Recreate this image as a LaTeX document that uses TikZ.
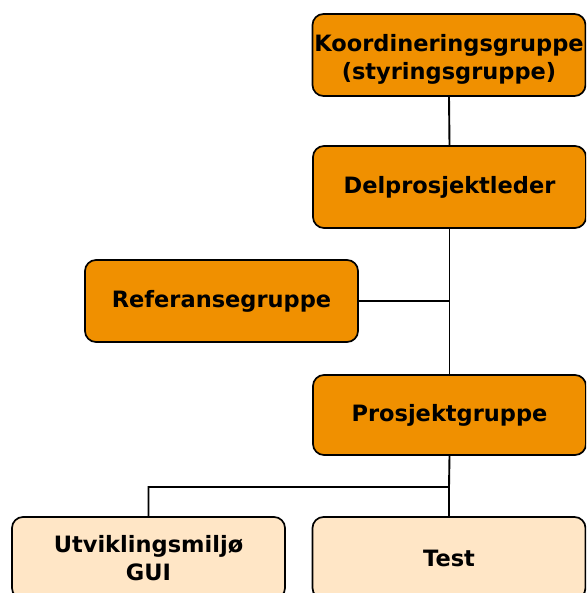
\documentclass[tikz,border=0pt]{standalone}
\usepackage{fontspec}
\setmainfont{DejaVu Sans}
\begin{document}
\begin{tikzpicture}[x=1pt,y=-1pt,
  boxfont/.style={font=\bfseries\fontsize{22.5}{28}\selectfont, align=center},
  box/.style={draw=black, line width=1.7pt, rounded corners=11pt,
    minimum width=273pt, minimum height=82pt, inner sep=0pt, boxfont},
  main/.style={box, fill={rgb,255:red,240;green,144;blue,0}},
  sub/.style={box, fill={rgb,255:red,255;green,230;blue,198}},
  link/.style={draw=black, line width=1.9pt}]
\useasboundingbox (0,0) rectangle (586,593);
\clip (0,0) rectangle (586,593);
\node[main] (k) at (449,55) {};
\node[boxfont, inner sep=0pt] (kt) at (449,59) {Koordineringsgruppe\\(styringsgruppe)};
\node[main] (d) at (449.5,187) {Delprosjektleder};
\node[main] (r) at (221.5,301) {Referansegruppe};
\node[main, minimum height=80pt] (p) at (449.5,415) {Prosjektgruppe};
\node[sub] (u) at (148.5,558) {Utviklingsmiljø\\GUI};
\node[sub] (t) at (449,558) {Test};
\coordinate (j) at (449,487);
\draw[link] (k.south) -- (d.north);
\draw[link] (d.south) -- (p.north);
\draw[link] (r.east) -- (d.south |- r.east);
\draw[link] (p.south) -- (j) -| (u.north);
\draw[link] (j) -- (t.north);
\end{tikzpicture}
\end{document}
